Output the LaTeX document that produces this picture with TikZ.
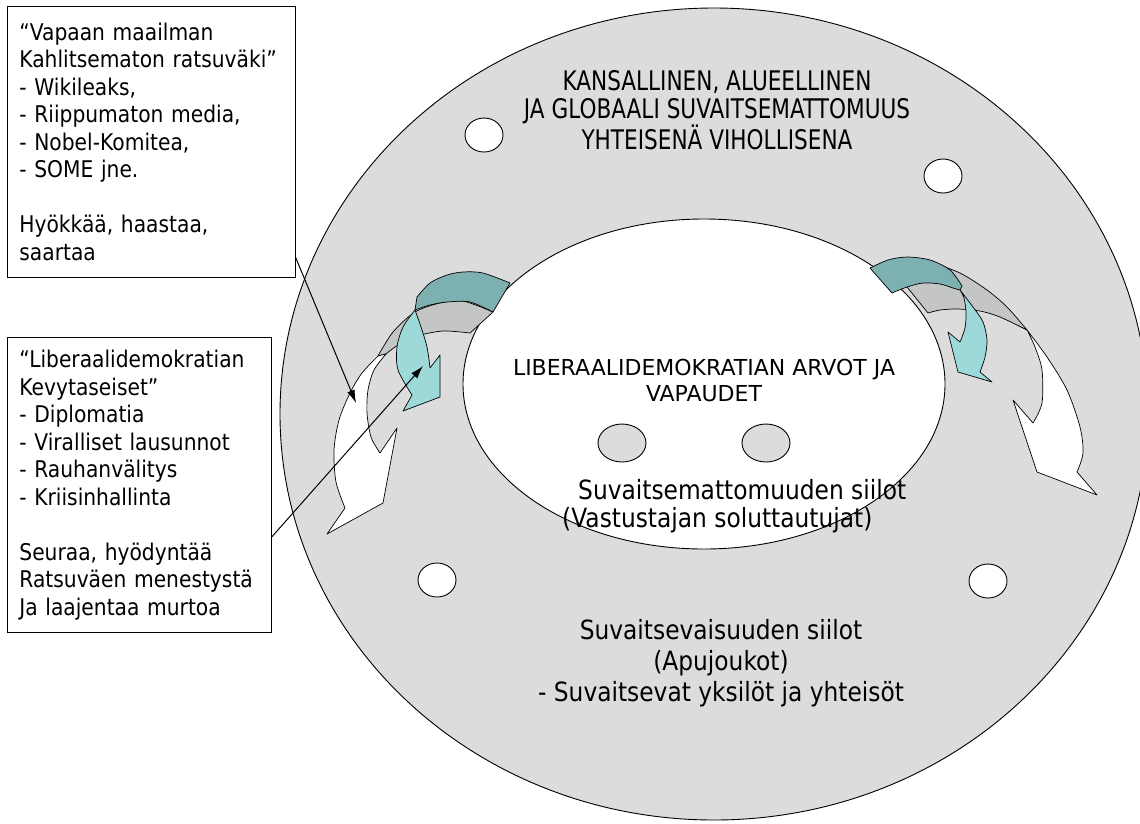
\documentclass[tikz,border=0pt]{standalone}
\usepackage{fontspec}
\setmainfont{DejaVu Sans}
\newfontfamily\narrowfont{DejaVu Sans}[FakeStretch=0.88]
\newfontfamily\capsfont{DejaVu Sans}[FakeStretch=0.8]
\usetikzlibrary{arrows.meta, positioning, calc}
\definecolor{ringgray}{RGB}{220,220,220}
\definecolor{bandgray}{RGB}{196,198,198}
\definecolor{darkteal}{RGB}{125,176,177}
\definecolor{lightteal}{RGB}{158,217,218}
\tikzset{
    notebox/.style = {draw=black, line width=0.8pt, fill=white, anchor=north west,
        align=left, inner xsep=12pt, font=\narrowfont\fontsize{23}{27.5}\selectfont},
    hole/.style = {draw=black, line width=0.9pt, fill=white},
    siilo/.style = {draw=black, line width=0.9pt, fill=ringgray},
    band/.style = {draw=black, line width=0.7pt, line join=round},
    ringtext/.style = {align=center, inner sep=0pt},
    link/.style = {->, line width=1pt},
}

\begin{document}
\begin{tikzpicture}[x=1pt, y=-1pt, >={Latex[length=13pt,width=8pt]}]
        \useasboundingbox (0,0) rectangle (1140,823);
        % outer ring and the holes in it
        \draw[siilo] (714,414) ellipse [x radius=434, y radius=406];
        \draw[hole] (484,135) ellipse [x radius=19, y radius=17];
        \draw[hole] (943,176) ellipse [x radius=19, y radius=17];
        \draw[hole] (437,580) ellipse [x radius=19, y radius=17];
        \draw[hole] (988,581) ellipse [x radius=19, y radius=17];
        \draw[hole] (704,384) ellipse [x radius=241, y radius=165];
        \draw[siilo] (622,443) ellipse [x radius=24, y radius=19];
        \draw[siilo] (766,443) ellipse [x radius=24, y radius=19];

        % left curved arrows
        \draw[band, fill=bandgray] plot[smooth] coordinates {(378,356) (393,332) (415,312) (440,303) (463,301) (493,312)}
            -- (470,333) -- plot[smooth] coordinates {(470,333) (443,331) (417,336) (398,345) (386,354)} -- cycle;
        \draw[band, fill=white] plot[smooth] coordinates {(378,356) (362,373) (350,393) (339,420) (334,450) (336,482) (345,508)}
            -- (327,534) -- (383,503) -- (397,428) -- (380,453)
            -- plot[smooth] coordinates {(380,453) (371,437) (367,413) (368,390) (374,370) (386,354)} -- cycle;
        \draw[band, fill=lightteal] plot[smooth] coordinates {(415,310) (403,327) (397,347) (398,370) (412,395)}
            -- (403,411) -- (440,397) -- (440,355) -- (430,368)
            -- plot[smooth] coordinates {(430,368) (427,347) (421,327) (415,310)} -- cycle;
        \draw[band, fill=darkteal] plot[smooth] coordinates {(417,297) (430,283) (447,275) (463,272) (483,273) (510,283)}
            -- (493,312) -- plot[smooth] coordinates {(493,312) (470,302) (447,302) (430,305) (415,310)} -- cycle;

        % right curved arrows
        \draw[band, fill=bandgray] (907,287) -- (928,313)
            -- plot[smooth] coordinates {(928,313) (940,310) (957,309) (980,311) (1000,317) (1027,330)}
            -- plot[smooth] coordinates {(1027,330) (1007,307) (987,290) (960,273) (930,262)} -- cycle;
        \draw[band, fill=white] plot[smooth] coordinates {(1027,330) (1047,357) (1067,390) (1080,427) (1083,453) (1077,472)}
            -- (1097,495) -- (1037,472) -- (1013,400) -- (1033,423)
            -- plot[smooth] coordinates {(1033,423) (1042,403) (1042,370) (1035,347) (1027,330)} -- cycle;
        \draw[band, fill=darkteal] plot[smooth] coordinates {(870,268) (888,260) (907,257) (930,260) (950,270) (962,286)}
            -- (960,290) -- plot[smooth] coordinates {(960,290) (953,288) (940,284) (923,283) (907,287) (892,293)} -- cycle;
        \draw[band, fill=lightteal] plot[smooth] coordinates {(960,290) (973,307) (983,322) (987,340) (985,357) (980,372)}
            -- (992,382) -- (958,372) -- (948,332) -- (960,342)
            -- plot[smooth] coordinates {(960,342) (965,328) (966,312) (964,298) (960,290)} -- cycle;

        % texts in the rings
        \node[ringtext, font=\capsfont\fontsize{27}{27.5}\selectfont] (enemy) at (717,110)
            {KANSALLINEN, ALUEELLINEN\\JA GLOBAALI SUVAITSEMATTOMUUS\\YHTEISENÄ VIHOLLISENA};
        \node[ringtext, font=\fontsize{22}{26}\selectfont] (values) at (704,380)
            {LIBERAALIDEMOKRATIAN ARVOT JA\\VAPAUDET};
        \node[ringtext, align=left, anchor=west, font=\narrowfont\fontsize{26.5}{28.5}\selectfont] (hostile) at (562,506)
            {\hspace*{16pt}Suvaitsemattomuuden siilot\\(Vastustajan soluttautujat)};
        \node[ringtext, font=\narrowfont\fontsize{26.5}{31}\selectfont] (tolerant) at (721,663)
            {Suvaitsevaisuuden siilot\\(Apujoukot)\\- Suvaitsevat yksilöt ja yhteisöt};

        % the two note boxes
        \node[notebox, text width=264pt, minimum height=271pt] (cavalry) at (7,6)
            {“Vapaan maailman\\Kahlitsematon ratsuväki”\\- Wikileaks,\\- Riippumaton media,\\- Nobel-Komitea,\\- SOME jne.\\[27.5pt]Hyökkää, haastaa,\\saartaa};
        \node[notebox, text width=240pt, minimum height=295pt] (lightarms) at (7,337)
            {“Liberaalidemokratian\\Kevytaseiset”\\- Diplomatia\\- Viralliset lausunnot\\- Rauhanvälitys\\- Kriisinhallinta\\[27.5pt]Seuraa, hyödyntää\\Ratsuväen menestystä\\Ja laajentaa murtoa};

        \coordinate (whitehit) at (356,403);
        \coordinate (cyanhit) at (423,366);
        \draw[link] ($(cavalry.south east)+(0,-20)$) -- (whitehit);
        \draw[link] ($(lightarms.east)+(0,52)$) -- (cyanhit);
\end{tikzpicture}
\end{document}
